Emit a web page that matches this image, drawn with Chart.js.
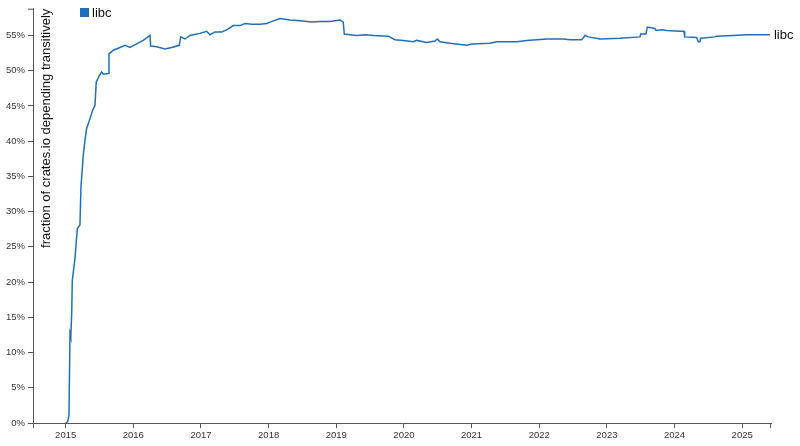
<!DOCTYPE html>
<html>
<head>
<meta charset="utf-8">
<script src="https://cdn.jsdelivr.net/npm/chart.js@4.4.1/dist/chart.umd.min.js"></script>
<style>
  html, body { margin: 0; padding: 0; background: #fff; }
  #wrap { width: 800px; height: 446px; position: relative; }
</style>
</head>
<body>
<div id="wrap"><canvas id="chart"></canvas></div>
<script>
// --- data ---
const seriesName = "libc";
const yAxisTitle = "fraction of crates.io depending transitively";

// decimal year of each sample
const years = [
  2015.000, 2015.030, 2015.049, 2015.064, 2015.074, 2015.078, 2015.089, 2015.098,
  2015.138, 2015.172, 2015.211, 2015.226, 2015.260, 2015.285, 2015.310, 2015.359,
  2015.399, 2015.433, 2015.452, 2015.497, 2015.532, 2015.556, 2015.630, 2015.640,
  2015.704, 2015.803, 2015.877, 2015.950, 2016.050, 2016.147, 2016.246, 2016.256,
  2016.345, 2016.468, 2016.567, 2016.679, 2016.700, 2016.763, 2016.837, 2016.985,
  2017.084, 2017.133, 2017.207, 2017.306, 2017.380, 2017.477, 2017.577, 2017.650,
  2017.749, 2017.872, 2017.971, 2018.020, 2018.168, 2018.316, 2018.463, 2018.636,
  2018.759, 2018.907, 2019.055, 2019.103, 2019.118, 2019.202, 2019.302, 2019.439,
  2019.547, 2019.769, 2019.868, 2019.990, 2020.138, 2020.188, 2020.336, 2020.459,
  2020.493, 2020.533, 2020.680, 2020.928, 2021.001, 2021.272, 2021.371, 2021.667,
  2021.814, 2022.110, 2022.356, 2022.455, 2022.627, 2022.676, 2022.725, 2022.898,
  2023.194, 2023.489, 2023.500, 2023.578, 2023.597, 2023.711, 2023.726, 2023.810,
  2023.884, 2024.081, 2024.140, 2024.150, 2024.327, 2024.351, 2024.376, 2024.387,
  2024.598, 2024.623, 2024.868, 2025.066, 2025.411
];

// fraction of crates.io depending on libc
const fractions = [
  0.000, 0.002, 0.011, 0.127, 0.132, 0.122, 0.156, 0.203,
  0.234, 0.276, 0.281, 0.335, 0.380, 0.401, 0.418, 0.432,
  0.444, 0.451, 0.484, 0.493, 0.498, 0.495, 0.496, 0.524,
  0.529, 0.533, 0.536, 0.533, 0.538, 0.543, 0.550, 0.535,
  0.534, 0.531, 0.533, 0.536, 0.548, 0.545, 0.550, 0.553,
  0.556, 0.551, 0.555, 0.555, 0.558, 0.564, 0.564, 0.567,
  0.566, 0.566, 0.567, 0.569, 0.574, 0.572, 0.571, 0.569,
  0.570, 0.570, 0.572, 0.569, 0.552, 0.551, 0.550, 0.551,
  0.550, 0.549, 0.544, 0.543, 0.541, 0.543, 0.540, 0.542,
  0.545, 0.541, 0.539, 0.536, 0.538, 0.539, 0.541, 0.541,
  0.543, 0.545, 0.545, 0.544, 0.544, 0.550, 0.548, 0.545,
  0.546, 0.548, 0.552, 0.552, 0.562, 0.560, 0.557, 0.558,
  0.557, 0.556, 0.556, 0.548, 0.547, 0.541, 0.541, 0.546,
  0.548, 0.549, 0.550, 0.551, 0.551
];

const yearTicks = [2015, 2016, 2017, 2018, 2019, 2020, 2021, 2022, 2023, 2024, 2025];
const percentTicks = [0, 0.05, 0.10, 0.15, 0.20, 0.25, 0.30, 0.35, 0.40, 0.45, 0.50, 0.55];

const lineColor = "#1f70b8";
const axisColor = "#555";
const fontFamily = "'Liberation Sans', Arial, Helvetica, sans-serif";

// labels, legend and the small d3-style outer ticks
const extras = {
  id: "extras",
  afterDraw(chart) {
    const { ctx, chartArea: a, scales } = chart;
    ctx.save();

    // outer ticks at the ends of the axes
    ctx.strokeStyle = axisColor;
    ctx.lineWidth = 1;
    ctx.beginPath();
    ctx.moveTo(a.left - 5, a.top + 0.5); ctx.lineTo(a.left, a.top + 0.5);
    ctx.moveTo(a.left + 0.5, a.bottom); ctx.lineTo(a.left + 0.5, a.bottom + 5);
    ctx.moveTo(a.right - 0.5, a.bottom); ctx.lineTo(a.right - 0.5, a.bottom + 5);
    ctx.stroke();

    // y axis title, inside the plot next to the axis
    ctx.fillStyle = "#111";
    ctx.font = "13px " + fontFamily;
    ctx.save();
    ctx.translate(a.left + 17, a.top);
    ctx.rotate(-Math.PI / 2);
    ctx.textAlign = "right";
    ctx.textBaseline = "alphabetic";
    ctx.fillText(yAxisTitle, 0, 0);
    ctx.restore();

    // legend swatch
    ctx.fillStyle = lineColor;
    ctx.fillRect(80, 8, 9, 9);
    ctx.fillStyle = "#111";
    ctx.textAlign = "left";
    ctx.textBaseline = "middle";
    ctx.fillText(seriesName, 92, 13);

    // label at the end of the line
    const lastX = scales.x.getPixelForValue(years[years.length - 1]);
    const lastY = scales.y.getPixelForValue(fractions[fractions.length - 1]);
    ctx.fillText(seriesName, lastX + 4, lastY + 1);

    ctx.restore();
  }
};

const tickFont = { family: fontFamily, size: 9.5 };

new Chart(document.getElementById("chart").getContext("2d"), {
  type: "line",
  data: {
    datasets: [
      {
        label: seriesName,
        data: years.map((x, i) => ({ x, y: fractions[i] })),
        borderColor: lineColor,
        borderWidth: 1.5,
        pointRadius: 0,
        tension: 0,
        fill: false,
      },
    ],
  },
  options: {
    responsive: true,
    maintainAspectRatio: false,
    animation: false,
    layout: { padding: { top: 8, right: 29, left: 0, bottom: 0 } },
    plugins: {
      legend: { display: false },
      tooltip: { enabled: false },
    },
    scales: {
      x: {
        type: "linear",
        min: 2014.517,
        max: 2025.426,
        afterBuildTicks: (s) => { s.ticks = yearTicks.map((v) => ({ value: v })); },
        afterFit: (s) => { s.height = 23; },
        ticks: {
          callback: (v) => String(v),
          font: tickFont,
          color: "#333",
          padding: 2,
          maxRotation: 0,
          autoSkip: false,
        },
        grid: { drawOnChartArea: false, tickLength: 5, color: axisColor },
        border: { color: axisColor },
      },
      y: {
        min: 0,
        max: 0.588,
        afterBuildTicks: (s) => { s.ticks = percentTicks.map((v) => ({ value: v })); },
        afterFit: (s) => { s.width = 33; },
        ticks: {
          callback: (v) => Math.round(v * 100) + "%",
          font: tickFont,
          color: "#333",
          padding: 3,
          autoSkip: false,
        },
        grid: { drawOnChartArea: false, tickLength: 5, color: axisColor },
        border: { color: axisColor },
      },
    },
  },
  plugins: [extras],
});
</script>
</body>
</html>
